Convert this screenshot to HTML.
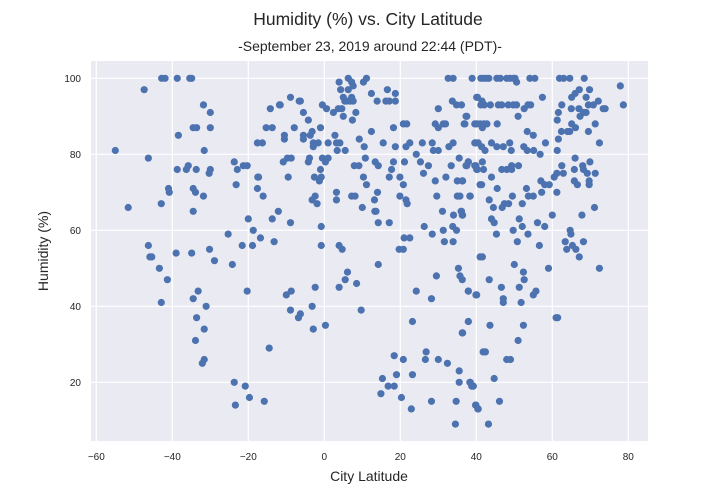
<!DOCTYPE html>
<html><head><meta charset="utf-8">
<style>
html,body{margin:0;padding:0;background:#fff;}
svg{display:block;font-family:"Liberation Sans",sans-serif;}
</style></head>
<body>
<svg id="chart" width="720" height="504" viewBox="0 0 720 504">
<text x="368" y="25" text-anchor="middle" font-size="17.5" fill="#262626">Humidity (%) vs. City Latitude</text>
<text x="370" y="51" text-anchor="middle" font-size="14" fill="#262626">-September 23, 2019 around 22:44 (PDT)-</text>
<rect x="91" y="61" width="557" height="380" fill="#eaeaf2"/>
<g id="grid"></g>
<g id="ticks" font-size="10" fill="#262626"></g>
<g id="points"></g>
<text x="369" y="481" text-anchor="middle" font-size="14" fill="#262626">City Latitude</text>
<text transform="translate(48,251) rotate(-90)" text-anchor="middle" font-size="14" fill="#262626">Humidity (%)</text>
</svg>
<script>
const xTicks=[-60,-40,-20,0,20,40,60,80];
const yTicks=[20,40,60,80,100];
const lats=[-55,-51.6,-47.4,-46.3,-46.3,-45.9,-45.4,-43.4,-41.3,-42.9,-42.9,-42.8,-41.9,-41,-40.8,-38.7,-38.7,-39,-38.4,-35.4,-34.9,-36.3,-35.8,-33.7,-34.5,-33.6,-31.8,-30,-30,-31.6,-30.3,-30,-34.5,-33.9,-31.8,-34.5,-34.9,-30.2,-28.9,-33.2,-34.5,-31.1,-33.6,-31.6,-33.9,-31.6,-32.1,
-23.7,-22.9,-21.3,-20.3,-23.2,-17.5,-17.3,-17.6,-16.1,-20,-18.7,-16.8,-13.7,-12.1,-8.9,-25.3,-21.6,-18.9,-13.2,-24.2,-20.3,-23.7,-20.8,-19.7,-23.4,-15.8,-14.5,-10,-8.7,-8.9,-6.8,-6.3,-3.2,-2.4,-2.9,0.3,-0.8,-0.8,-14.2,-11.8,-11.6,-8.9,-6.6,-6.3,-5.5,-4.2,-1,-0.5,0.6,-15.3,-13.7,-17.6,-16.3,-10.5,-10.5,-7.9,-5.5,-5.5,-3.7,-3.2,-2.9,-2.9,-1.6,1,-10.8,-9.7,-8.7,-9.5,-4.2,-3.9,-0.5,0.3,1,-1,-2.6,-1.3,-0.8,-3.2,-2.4,-1.9,
3.9,6.3,7.2,7.6,10.3,11.1,4.3,6.3,5,5.4,7.2,7.6,5.9,6.8,2.4,3.7,4.6,5,7.4,8.3,12.4,13.9,16.6,18.7,16.2,17.1,18.7,12.4,18.2,20.8,21.7,2.8,3.2,4.1,3.4,5.5,9.2,10.5,15.5,18.7,21.5,22.5,25.8,28.4,28.7,30,24.2,32.8,33.9,29.2,30,31.3,31.9,30,32.6,33.9,38.9,33.7,34.8,36.1,37.5,36.8,40.1,39.8,40.1,
7.9,9.1,10.8,13.4,14.2,10.3,11.1,18.2,17.7,17.1,21.1,19.9,20.8,19.9,21.5,21.8,25.3,27.4,26.1,29.2,32,33.4,35.5,37.9,37.5,39.6,40.1,35,36.3,3.2,3.2,7.2,8.1,10,13.2,14,13.3,13.6,14.2,17.1,29.6,35,38.4,31.1,34,36,36.3,26.3,28.4,31.3,31.6,33.9,33.8,34.8,21,22.5,19.7,20.8,3.9,4.7,14.2,6.1,5.5,3.9,8.5,9.7,29.5,35.3,35.7,36.3,24.2,28.2,37.9,40.1,23.2,37.9,36.3,18.4,20.8,26.8,26.6,30,32.4,35.5,15.3,19,23.2,16.8,18.4,14.9,20.3,22.9,28.2,34.7,35.5,38.4,38.9,39.2,39.8,40.4,34.5,41,41,
41.2,41.9,42.6,43.3,45.4,46.3,48,48.9,49.8,50.2,50.6,54.1,55.4,61.9,63,64.6,68.4,77.9,78.7,41.2,42.1,43.7,40.3,41.5,45.8,46.7,48.4,49.7,50.6,52.6,53.6,54.3,51,57.4,62.5,61.6,65,67,65.1,66,67.1,68.9,69.8,69.5,70.8,72.1,73.4,73.9,68.2,68.9,67.3,61.3,65.1,66.1,71.3,62.4,64,64.6,69.5,61.6,72.4,61.3,
39.6,41,42,42.8,45.5,41.6,37.3,37,39.6,40.5,41.4,42.3,44,45.4,47.1,48.8,49.2,52.5,53.4,55.1,56.8,58.2,53.4,55,37.3,37.9,39.9,40.3,41.9,41.6,46.7,48,49.3,49.3,51.1,44,41.4,45.5,36.4,35.7,38.3,43.4,44.5,46.8,47.4,48.5,49.5,52.1,53.2,53.7,55,57.2,57,58,59.2,61.2,60.5,61.2,62.5,62.9,66,65.8,68,68.2,69.9,65.8,66.6,69.2,69.7,69.7,71.3,71.1,67.8,60,36.1,36.4,
44,44.7,45.3,51.3,52.1,49.7,50.8,53.6,56.1,58,56.6,64.7,64.9,63.4,63.8,65.3,66.2,67.1,68.2,41.6,50,52.4,52.6,59,72.4,43.4,46.6,51.3,37.9,39.9,47.1,47.1,51.8,55,55.7,61,61.4,37.9,43.6,52.4,51,36.4,41.8,42.4,48,49,44.7,38.3,38.8,39.2,46.1,39.9,40.5,43.2];
const hums=[81,66,97,79,56,53,53,50,47,41,67,100,100,71,70,100,76,54,85,100,100,76,77,76,87,87,93,91,87,81,75,76,71,70,69,65,54,55,52,44,42,40,37,34,31,26,25,
78,76,77,77,72,74,74,71,69,63,60,58,63,65,62,59,56,56,57,51,44,20,19,16,14,15,29,43,44,39,37,38,40,45,34,35,61,56,92,93,93,95,94,94,91,89,87,93,92,87,87,83,83,85,84,87,85,84,85,86,83,82,83,83,78,79,79,74,78,79,79,78,79,76,74,73,74,68,69,67,
99,100,99,98,99,100,97,97,95,94,95,94,94,94,91,92,92,90,89,91,96,94,97,96,94,94,94,86,87,88,88,85,83,83,81,81,84,82,83,82,82,83,83,83,81,81,80,82,83,88,87,88,88,92,100,100,100,94,93,93,90,88,88,83,95,
77,77,79,78,77,74,72,78,76,74,78,74,72,69,68,67,78,77,75,73,74,77,79,78,77,77,76,73,73,70,68,69,69,66,68,70,65,65,62,62,69,69,69,65,64,65,64,61,59,60,57,57,61,60,58,58,55,55,56,55,51,49,47,45,46,39,48,50,48,47,44,42,44,43,36,36,33,27,26,28,26,26,25,23,21,22,22,19,19,17,16,13,15,15,20,20,19,19,14,13,9,53,72,
100,100,100,100,100,100,100,100,100,100,99,100,100,100,100,100,100,98,93,93,93,93,95,94,93,93,93,93,93,92,93,93,90,95,93,91,92,92,95,96,97,95,97,93,93,94,92,92,91,91,90,89,88,87,88,86,86,86,86,84,83,81,
88,88,88,88,88,87,90,88,83,83,82,81,83,82,82,83,81,82,81,81,80,83,86,85,77,78,77,76,76,78,76,76,77,76,77,74,72,71,73,69,69,68,66,66,67,67,69,67,71,69,69,70,73,72,72,70,74,75,77,75,79,76,77,76,78,73,72,75,73,72,75,66,64,64,65,64,
63,62,59,63,61,60,57,59,62,61,56,60,59,57,55,56,55,53,57,53,51,49,47,50,50,47,45,45,44,43,42,41,41,43,44,37,37,36,35,35,31,33,28,28,26,26,21,20,19,19,15,14,13,9];
const NS='http://www.w3.org/2000/svg';
const xS=v=>324.3+3.8*v;
const yS=v=>458.3-3.8*v;
const grid=document.getElementById('grid'),tk=document.getElementById('ticks'),pts=document.getElementById('points');
xTicks.forEach(t=>{
  const l=document.createElementNS(NS,'line');
  l.setAttribute('x1',xS(t));l.setAttribute('x2',xS(t));l.setAttribute('y1',61);l.setAttribute('y2',441);
  l.setAttribute('stroke','#fff');l.setAttribute('stroke-width','1.2');
  
  
  grid.appendChild(l);
  const tx=document.createElementNS(NS,'text');
  tx.setAttribute('x',xS(t));tx.setAttribute('y',460);tx.setAttribute('text-anchor','middle');
  tx.textContent=t<0?'\u2212'+Math.abs(t):String(t);
  
  
  tk.appendChild(tx);
});
yTicks.forEach(t=>{
  const l=document.createElementNS(NS,'line');
  l.setAttribute('x1',91);l.setAttribute('x2',648);l.setAttribute('y1',yS(t));l.setAttribute('y2',yS(t));
  l.setAttribute('stroke','#fff');l.setAttribute('stroke-width','1.2');
  
  
  grid.appendChild(l);
  const tx=document.createElementNS(NS,'text');
  tx.setAttribute('x',81);tx.setAttribute('y',yS(t)+3.5);tx.setAttribute('text-anchor','end');
  tx.textContent=String(t);
  
  
  tk.appendChild(tx);
});
const n=Math.min(lats.length,hums.length);
for(let i=0;i<n;i++){
  const c=document.createElementNS(NS,'circle');
  c.setAttribute('cx',xS(lats[i]));c.setAttribute('cy',yS(hums[i]));c.setAttribute('r',3.6);
  c.setAttribute('fill','#4c72b0');
  
  
  pts.appendChild(c);
}
</script>
</body></html>
